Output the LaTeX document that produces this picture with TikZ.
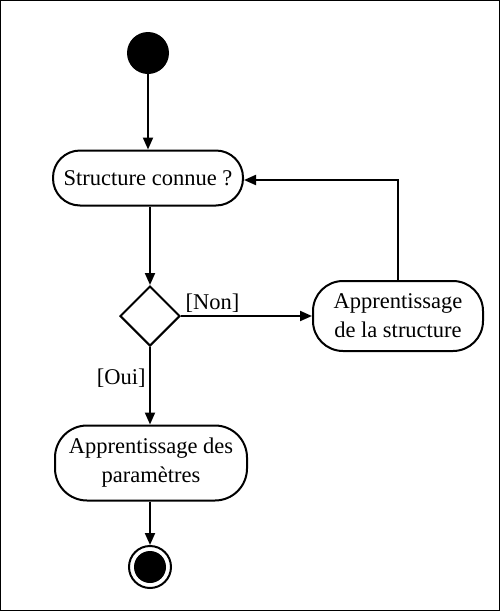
\documentclass[tikz,border=0pt]{standalone}
\usepackage{fontspec}
\setmainfont{Liberation Serif}
\usetikzlibrary{shapes.geometric,arrows.meta}
\begin{document}
\begin{tikzpicture}[x=1pt,y=-1pt,
  act/.style={draw,line width=2pt,rounded corners=27pt,align=center,font=\fontsize{22.5}{29}\selectfont},
  conn/.style={line width=2pt,-{Triangle[length=12pt,width=10pt]}},
  lbl/.style={font=\fontsize{22.5}{26}\selectfont}]
\draw[line width=1pt] (0.5,0.5) rectangle (499.5,610.5);
\useasboundingbox (0,0) rectangle (500,611);
\node[circle,fill=black,minimum size=42pt,inner sep=0pt] (start) at (148,53) {};
\node[act,minimum width=190pt,minimum height=55pt] (sc) at (148,178) {Structure connue ?};
\node[diamond,draw,line width=2pt,minimum width=60pt,minimum height=60pt,inner sep=0pt] (d) at (150,316) {};
\node[act,minimum width=170pt,minimum height=70pt,rounded corners=30pt] (as) at (398,316) {Apprentissage\\de la structure};
\node[act,minimum width=192pt,minimum height=75pt,rounded corners=32pt] (ap) at (151,463) {Apprentissage des\\paramètres};
\node[circle,draw,line width=2pt,minimum size=42pt,inner sep=0pt] (end) at (150,567) {};
\node[circle,fill=black,minimum size=32pt,inner sep=0pt] at (end.center) {};
\coordinate (corner) at (398,180);
\draw[conn] (start) -- (sc.north -| start);
\draw[conn] (sc.south -| d.north) -- (d.north);
\draw[conn] (d.east) -- (as.west) node[lbl,pos=0.24,above,inner sep=2pt] {[Non]};
\draw[conn] (as.north) -- (corner) -- (sc.east |- corner);
\draw[conn] (d.south) -- (ap.north -| d.south) node[lbl,pos=0.4,left] {[Oui]};
\draw[conn] (ap.south -| end.north) -- (end.north);
\end{tikzpicture}
\end{document}
